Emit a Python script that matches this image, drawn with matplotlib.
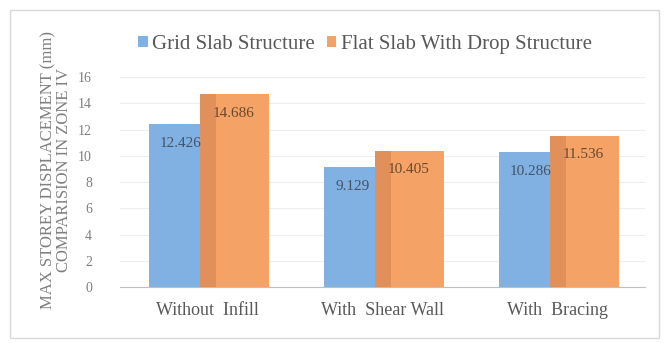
import numpy as np
import matplotlib.pyplot as plt
from matplotlib.patches import Rectangle

categories = ["Without  Infill", "With  Shear Wall", "With  Bracing"]
grid_slab = [12.426, 9.129, 10.286]
flat_slab = [14.686, 10.405, 11.536]
series_names = ["Grid Slab Structure", "Flat Slab With Drop Structure"]

serif = ['Liberation Serif', 'DejaVu Serif']
plt.rcParams['font.family'] = serif

blue = "#80B1E2"
orange = "#F4A265"
shade = "#DB8C55"
txt = "#595959"

fig = plt.figure(figsize=(6.66, 3.43), dpi=100)
fig.patches.append(Rectangle((0.015, 0.015), 0.975, 0.955, transform=fig.transFigure,
                             fill=False, edgecolor="#D9D9D9", linewidth=1))

ax = fig.add_axes([0.180, 0.163, 0.788, 0.612])
x = np.arange(len(categories))

b1 = ax.bar(x - 0.335, grid_slab, width=0.30, color=blue, label=series_names[0], zorder=2, align="edge")
b2 = ax.bar(x - 0.04, flat_slab, width=0.395, color=orange, label=series_names[1], zorder=2, align="edge")
# darker strip on the left side of the orange bars
ax.bar(x - 0.04, flat_slab, width=0.09, color=shade, zorder=3, alpha=0.8, align="edge")

for xi, v in zip(x, grid_slab):
    ax.text(xi - 0.27, v - 1.45, f"{v:.3f}", color="#44546A", fontsize=11, va="center", ha="left", zorder=4)
for xi, v in zip(x, flat_slab):
    ax.text(xi + 0.03, v - 1.45, f"{v:.3f}", color="#6B4A2E", fontsize=11, va="center", ha="left", zorder=4)

ax.set_xlim(-0.5, 2.5)
ax.set_ylim(0, 16)
ax.set_yticks(range(0, 17, 2))
ax.set_xticks(x)
ax.set_xticklabels(categories, fontsize=13, color=txt)
ax.tick_params(axis='y', labelsize=10, colors="#7F7F7F", length=0, pad=20)
ax.tick_params(axis='x', length=0, pad=11)
ax.grid(axis='y', color="#EDEDED", linewidth=0.8, zorder=0)
for s in ["top", "right", "left"]:
    ax.spines[s].set_visible(False)
ax.spines["bottom"].set_color("#BFBFBF")

ax.set_ylabel("MAX STOREY DISPLACEMENT (mm)\nCOMPARISION IN ZONE IV", fontsize=12,
              color="#7F7F7F", linespacing=0.95)
ax.yaxis.set_label_coords(-0.091, 0.557)

ax.legend(handles=[b1, b2], loc="center", bbox_to_anchor=(0.467, 1.155), ncol=2,
          frameon=False, prop={'family': serif, 'size': 15}, handlelength=0.45,
          handleheight=0.45, handletextpad=0.2, columnspacing=0.6, labelcolor=txt)

fig.savefig("out.png", dpi=100)
